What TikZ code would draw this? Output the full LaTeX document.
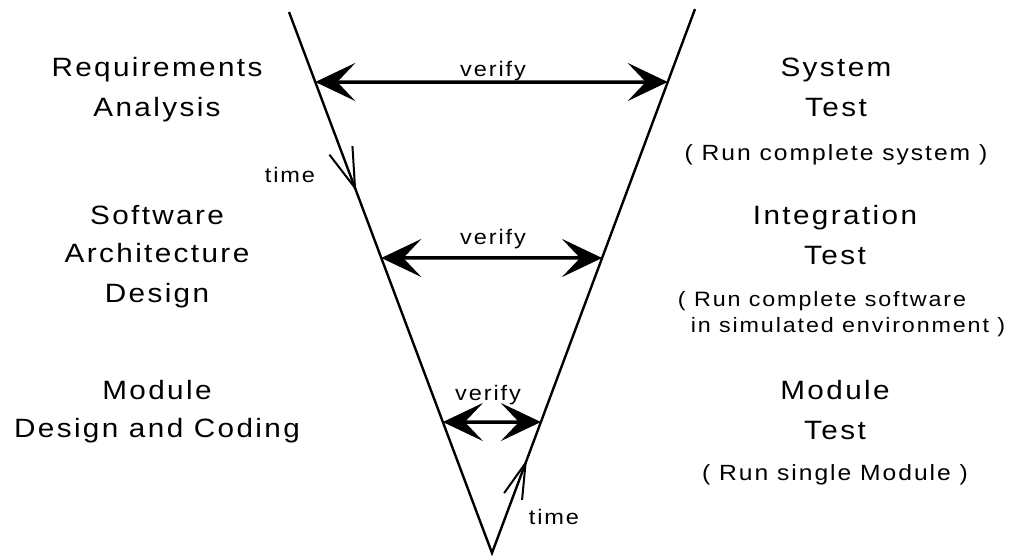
\documentclass[tikz,border=0pt]{standalone}
\usepackage{fontspec}
\setmainfont{Liberation Sans}
\newfontfamily\labelfont[FakeStretch=1.12,LetterSpace=9]{Liberation Sans}
\usetikzlibrary{arrows.meta,calc}

\tikzset{
  vline/.style={line width=2.4pt},
  verifyarrow/.style={line width=3.5pt,
    {Stealth[length=40pt,width=38pt,inset=18pt]}-{Stealth[length=40pt,width=38pt,inset=18pt]}},
  timearm/.style={line width=2pt},
  phase/.style={font=\labelfont\fontsize{26.5}{30}\selectfont, inner sep=0pt, anchor=base},
  note/.style={font=\labelfont\fontsize{22}{24}\selectfont, inner sep=0pt, anchor=base},
  longnote/.style={font=\labelfont\fontsize{20.8}{24}\selectfont, inner sep=0pt, anchor=base},
  tag/.style={font=\labelfont\fontsize{21}{24}\selectfont, inner sep=0pt, anchor=base},
}

\begin{document}
\begin{tikzpicture}[x=1pt,y=-1pt]
\useasboundingbox (0,0) rectangle (1010,556);

% the V: development goes down the left side, testing comes up the right
\coordinate (LT) at (289,12);
\coordinate (RT) at (695,9);
\coordinate (apex) at (492,553);
\draw[vline] (LT) -- (apex) -- (RT);

% points on the two sides
\path (LT) -- (apex)
  coordinate[pos=0.1294] (v1l)
  coordinate[pos=0.4547] (v2l)
  coordinate[pos=0.7579] (v3l)
  coordinate[pos=0.3253] (tdown);
\path (RT) -- (apex)
  coordinate[pos=0.1342] (v1r)
  coordinate[pos=0.4577] (v2r)
  coordinate[pos=0.7592] (v3r)
  coordinate[pos=0.8346] (tup);

% verification arrows between matching levels
\draw[verifyarrow] (v1l) -- (v1r);
\draw[verifyarrow] (v2l) -- (v2r);
\draw[verifyarrow] (v3l) -- (v3r);

% time direction marks
\draw[timearm] ($(tdown)+(-2.6,-41.9)$) -- (tdown) -- ($(tdown)+(-25.6,-33.3)$);
\draw[timearm] ($(tup)+(-3.5,36.8)$) -- (tup) -- ($(tup)+(-21.5,30.1)$);

% left column: development phases
\node[phase] (req1) at (157,77)  {Requirements};
\node[phase] (req2) at (157,117) {Analysis};
\node[phase] (arc1) at (157,225) {Software};
\node[phase] (arc2) at (157,263) {Architecture};
\node[phase] (arc3) at (157,302) {Design};
\node[phase] (mod1) at (157,399) {Module};
\node[phase] (mod2) at (157,437) {Design and Coding};

% right column: test phases
\node[phase] (sys1) at (836,77)  {System};
\node[phase] (sys2) at (836,117) {Test};
\node[note]  (sys3) at (836,161) {( Run complete system )};
\node[phase] (int1) at (835,225) {Integration};
\node[phase] (int2) at (835,265) {Test};
\node[longnote] (int3) at (822,306) {( Run complete software};
\node[longnote] (int4) at (848,332) {in simulated environment )};
\node[phase] (mt1)  at (835,399) {Module};
\node[phase] (mt2)  at (835,439) {Test};
\node[note]  (mt3)  at (835,480) {( Run single Module )};

% arrow labels
\node[tag] (ver1) at (493,77)  {verify};
\node[tag] (ver2) at (493,245) {verify};
\node[tag] (ver3) at (488,400) {verify};
\node[tag] (time1) at (290,183) {time};
\node[tag] (time2) at (554,524) {time};
\end{tikzpicture}
\end{document}
